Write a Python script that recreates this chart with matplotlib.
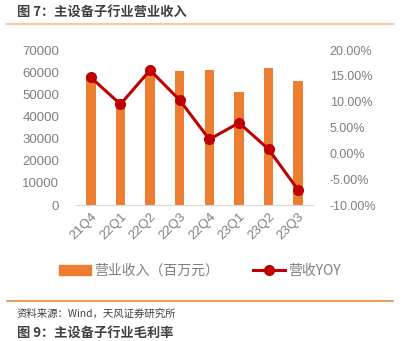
import matplotlib
matplotlib.use("Agg")
import matplotlib.pyplot as plt
from matplotlib.lines import Line2D
from matplotlib.patches import Patch
from matplotlib.ticker import FuncFormatter, MultipleLocator

plt.rcParams['font.family'] = ['Noto Sans CJK SC', 'DejaVu Sans']

quarters = ["21Q4", "22Q1", "22Q2", "22Q3", "22Q4", "23Q1", "23Q2", "23Q3"]
revenue = [58700, 48000, 60200, 60500, 61000, 51200, 61700, 56000]   # 百万元
yoy = [14.7, 9.5, 16.1, 10.3, 2.7, 5.9, 0.8, -7.1]                   # %

title_text = "图 7：主设备子行业营业收入"
source_text = "资料来源：Wind，天风证券研究所"
next_title = "图 9：主设备子行业毛利率"
bar_label = "营业收入（百万元）"
line_label = "营收YOY"

BAR = "#ED7D31"
LINE = "#C00000"
GREY = "#7F7F7F"
num_font = ["Liberation Sans", "DejaVu Sans"]

fig = plt.figure(figsize=(4.03, 3.41), dpi=100)
ax = fig.add_axes([76 / 403, 1 - 205 / 341, 237 / 403, 155 / 341])
ax2 = ax.twinx()

x = list(range(len(quarters)))
ax.bar(x, revenue, width=0.32, color=BAR, zorder=2)
ax2.plot(x, yoy, color=LINE, lw=2.2, marker="o", ms=7, zorder=3)

ax.set_xlim(-0.5, len(quarters) - 0.5)
ax.set_ylim(0, 70000)
ax.yaxis.set_major_locator(MultipleLocator(10000))
ax2.set_ylim(-10, 20)
ax2.yaxis.set_major_locator(MultipleLocator(5))
ax2.yaxis.set_major_formatter(FuncFormatter(lambda v, p: f"{v:.2f}%"))

ax.set_xticks(x)
ax.set_xticklabels(quarters, rotation=45, ha="right", rotation_mode="anchor",
                   fontsize=9.5, color=GREY, family=num_font)
for lab in ax.get_yticklabels():
    lab.set_fontsize(9.5)
    lab.set_color(GREY)
    lab.set_family(num_font)
for lab in ax2.get_yticklabels():
    lab.set_fontsize(9)
    lab.set_color(GREY)
    lab.set_family(num_font)

for a in (ax, ax2):
    for s in a.spines.values():
        s.set_visible(False)
    a.tick_params(length=0)
ax.spines["bottom"].set_visible(True)
ax.spines["bottom"].set_color("#D9D9D9")
ax.tick_params(axis="y", pad=12)
ax.tick_params(axis="x", pad=4)
ax2.tick_params(axis="y", pad=12)

handles = [Patch(color=BAR),
           Line2D([0], [0], color=LINE, lw=2.2, marker="o", ms=7)]
fig.legend(handles, [bar_label, line_label], loc="center",
           bbox_to_anchor=(200 / 403, 1 - 271 / 341), ncol=2, frameon=False,
           fontsize=10, labelcolor=GREY, handlelength=2.3, handletextpad=0.2,
           columnspacing=2.5)

fig.text(17 / 403, 1 - 12 / 341, title_text, fontsize=9.5, fontweight="bold",
         color="#404040", va="center", ha="left")
fig.add_artist(Line2D([7 / 403, 393 / 403], [1 - 23.5 / 341] * 2,
                      color="#F8C89E", lw=1.5))
fig.add_artist(Line2D([7 / 403, 393 / 403], [1 - 301 / 341] * 2,
                      color="#EE8A3A", lw=1.2))
fig.text(17 / 403, 1 - 314 / 341, source_text, fontsize=7.5,
         color="#404040", va="center", ha="left")
fig.text(17 / 403, 1 - 339.5 / 341, next_title, fontsize=9.5, fontweight="bold",
         color="#404040", va="bottom", ha="left")

fig.savefig("out.png", dpi=100)
